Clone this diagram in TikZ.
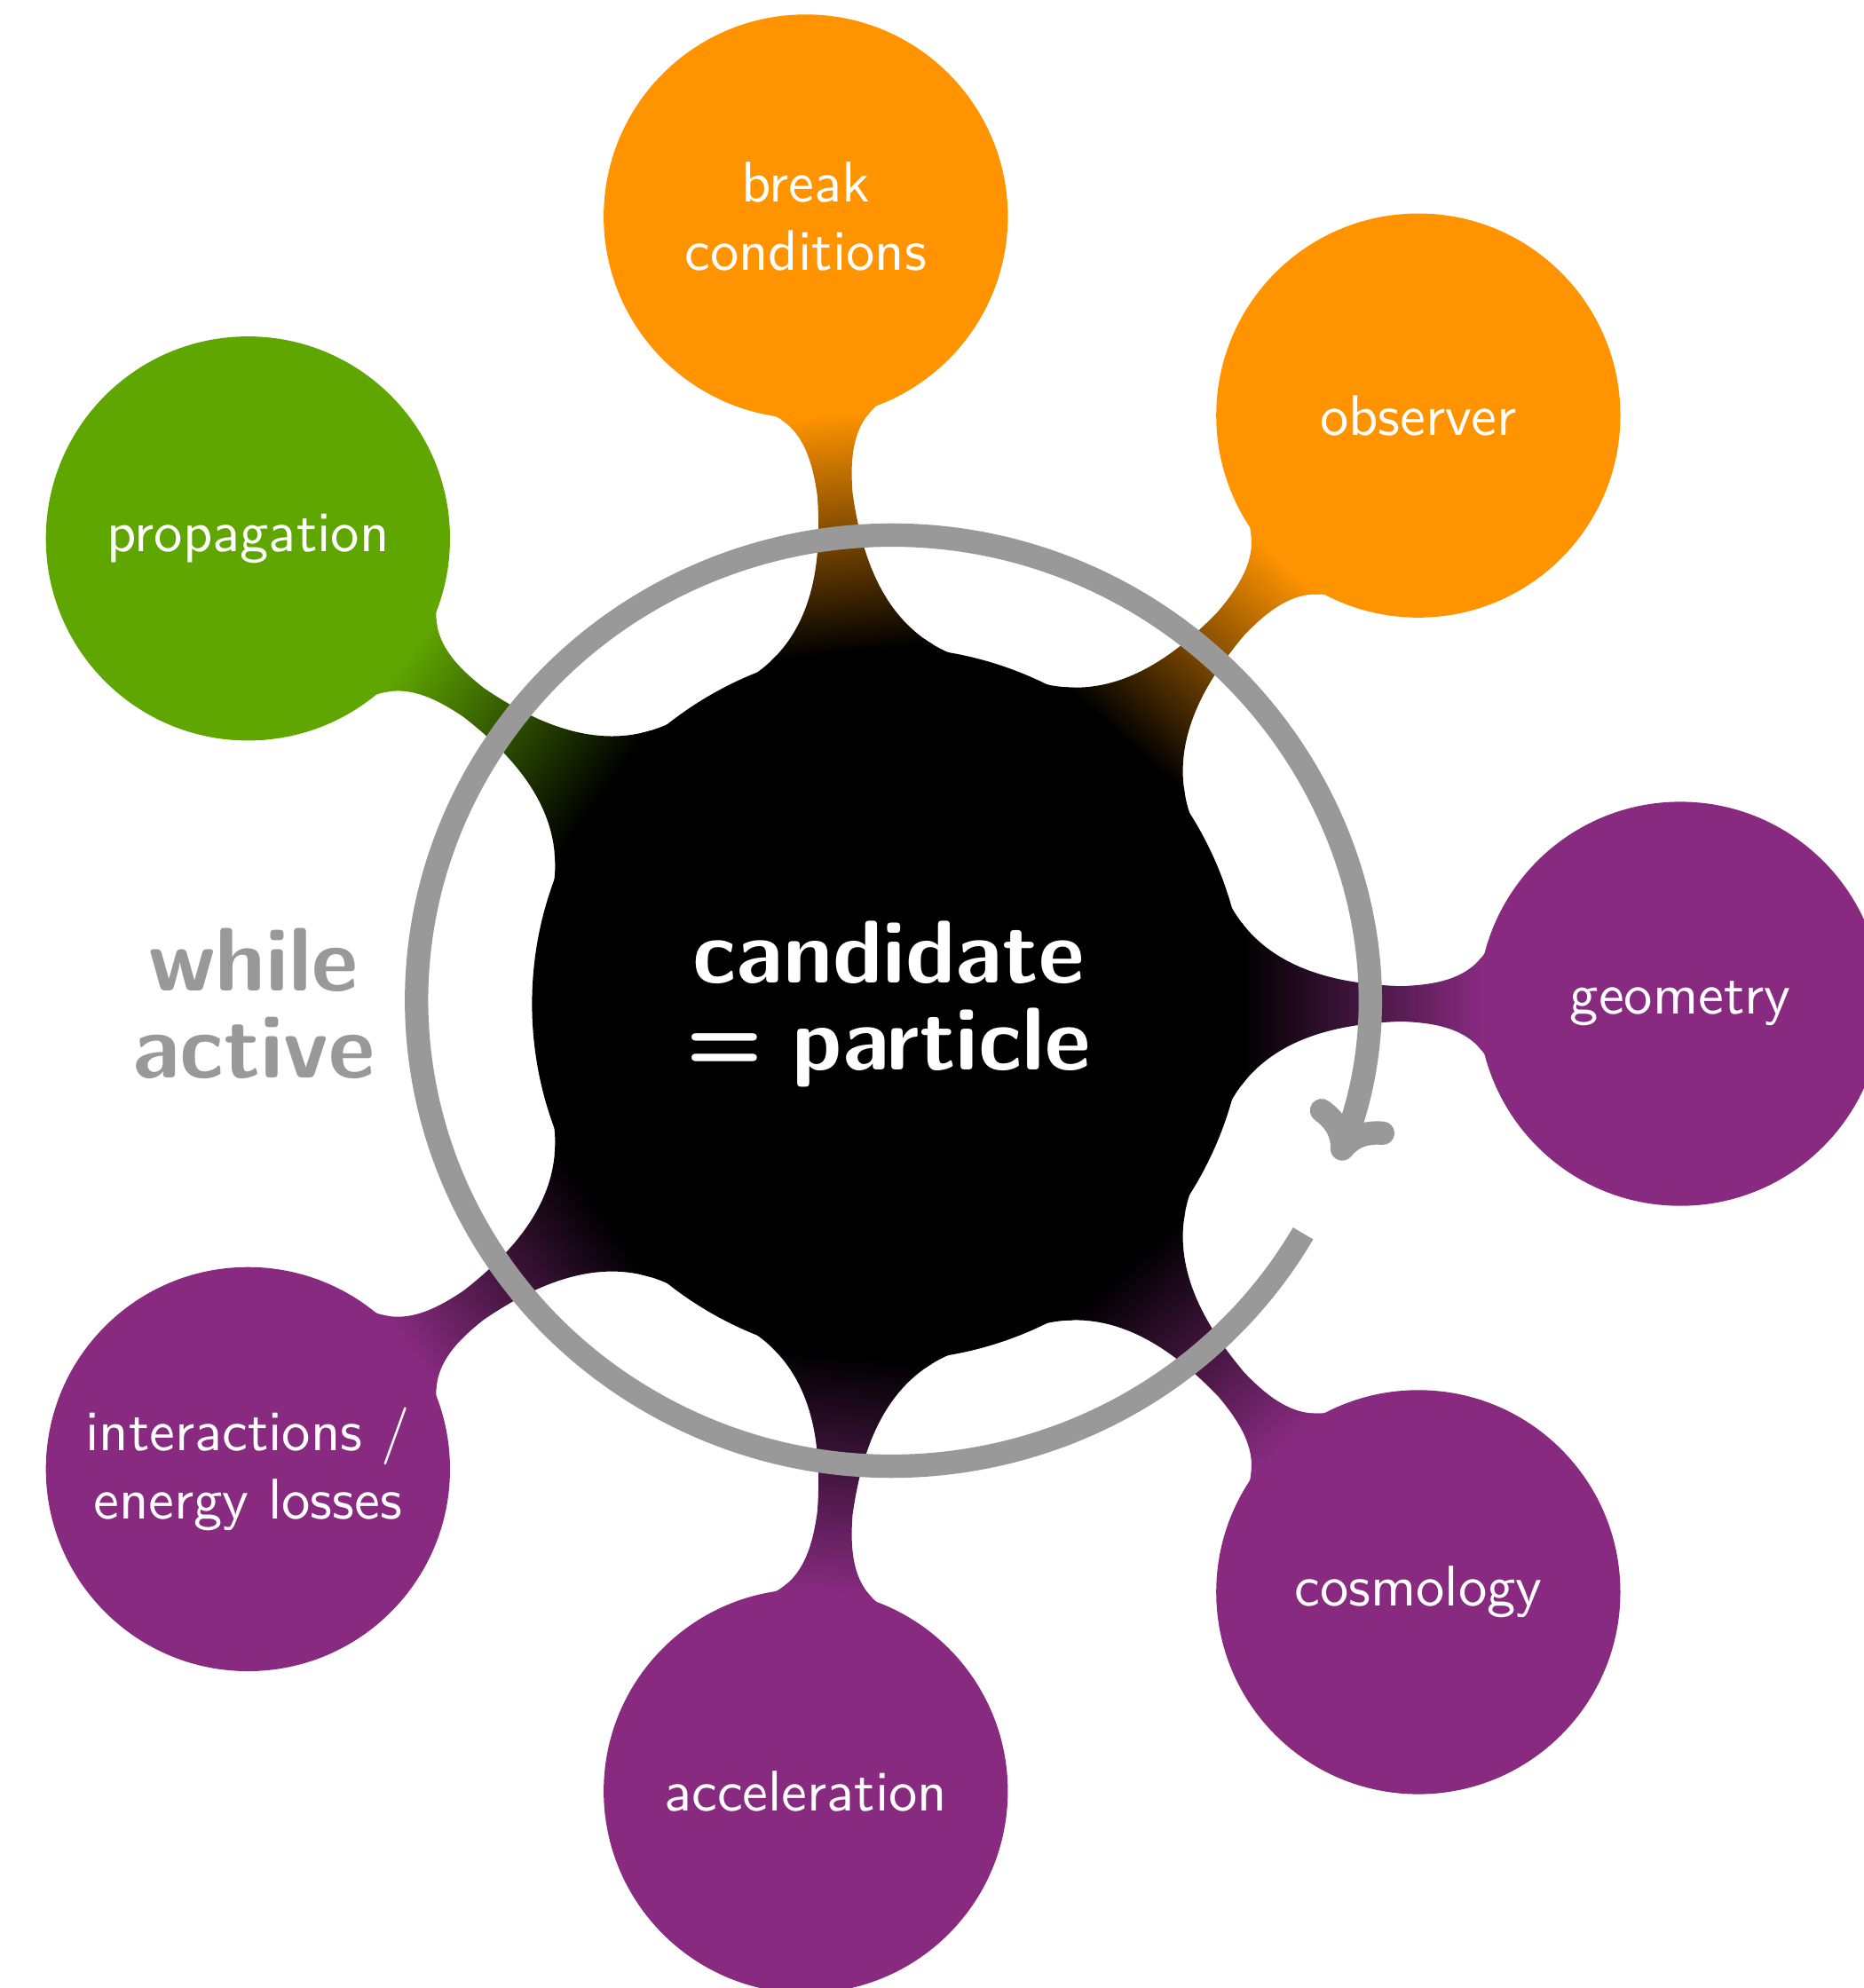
\documentclass[tikz,border=0pt]{standalone}
\usepackage{xcolor}
\usepackage{tikz}
\usetikzlibrary{mindmap}
\usetikzlibrary{backgrounds}
\usetikzlibrary{arrows.meta}

\definecolor{loopgray}{RGB}{153,153,153}
\definecolor{propgreen}{RGB}{95,166,0}
\definecolor{breakorange}{RGB}{255,148,0}
\definecolor{modpurple}{RGB}{136,43,128}

\begin{document}
\begin{tikzpicture}
    [%%%%%%%%%%%%%%%%%%%%%%%%%%%%%%
        mindmap,
        particle/.style={concept color=black, concept, text=white, inner sep=0pt,
            minimum size=4.46cm, text width=3.2cm, align=center,
            font=\sffamily\bfseries\fontsize{16}{15.6}\selectfont},
        module/.style={concept color=#1, concept, text=white, inner sep=0pt,
            minimum size=2.51cm, text width=2.3cm, align=center,
            font=\sffamily\fontsize{10.3}{12.3}\selectfont},
        looparc/.style={draw=loopgray, line width=4.2pt,
            -{Computer Modern Rightarrow[round, length=3.3mm, width=5.6mm]}},
        looplabel/.style={text=loopgray, align=center,
            font=\sffamily\bfseries\fontsize{16.2}{15.6}\selectfont}
    ]%%%%%%%%%%%%%%%%%%%%%%%%%%%%%%

\useasboundingbox (-5.611,-6.216) rectangle (6.160,6.340);

% the particle in the middle
\node[particle] (cand) at (0,0) {candidate\\= particle};

% modules, clockwise every 48 degrees
\node[module=propgreen]   (prop)  at (144:5cm)  {propagation};
\node[module=breakorange] (brk)   at (96:5cm)   {break\\conditions};
\node[module=breakorange] (obs)   at (48:5cm)   {observer};
\node[module=modpurple]   (geom)  at (0:5cm)    {geometry};
\node[module=modpurple]   (cosmo) at (-48:5cm)  {cosmology};
\node[module=modpurple]   (accel) at (-96:5cm)  {acceleration};
\node[module=modpurple]   (inter) at (-144:5cm) {interactions /\\energy losses};

\begin{pgfonlayer}{background}
\path (cand) to[circle connection bar switch color=from (black) to (propgreen)]   (prop);
\path (cand) to[circle connection bar switch color=from (black) to (breakorange)] (brk);
\path (cand) to[circle connection bar switch color=from (black) to (breakorange)] (obs);
\path (cand) to[circle connection bar switch color=from (black) to (modpurple)]   (geom);
\path (cand) to[circle connection bar switch color=from (black) to (modpurple)]   (cosmo);
\path (cand) to[circle connection bar switch color=from (black) to (modpurple)]   (accel);
\path (cand) to[circle connection bar switch color=from (black) to (modpurple)]   (inter);
\end{pgfonlayer}

% the loop around the particle
\coordinate (hub) at (0.02,0.02);
\draw[looparc] (hub) ++(330:3cm and 2.94cm)
    arc[start angle=330, end angle=-20, x radius=3cm, y radius=2.94cm];

\node[looplabel] (while) at (-4.01,0) {while\\active};

\end{tikzpicture}
\end{document}
